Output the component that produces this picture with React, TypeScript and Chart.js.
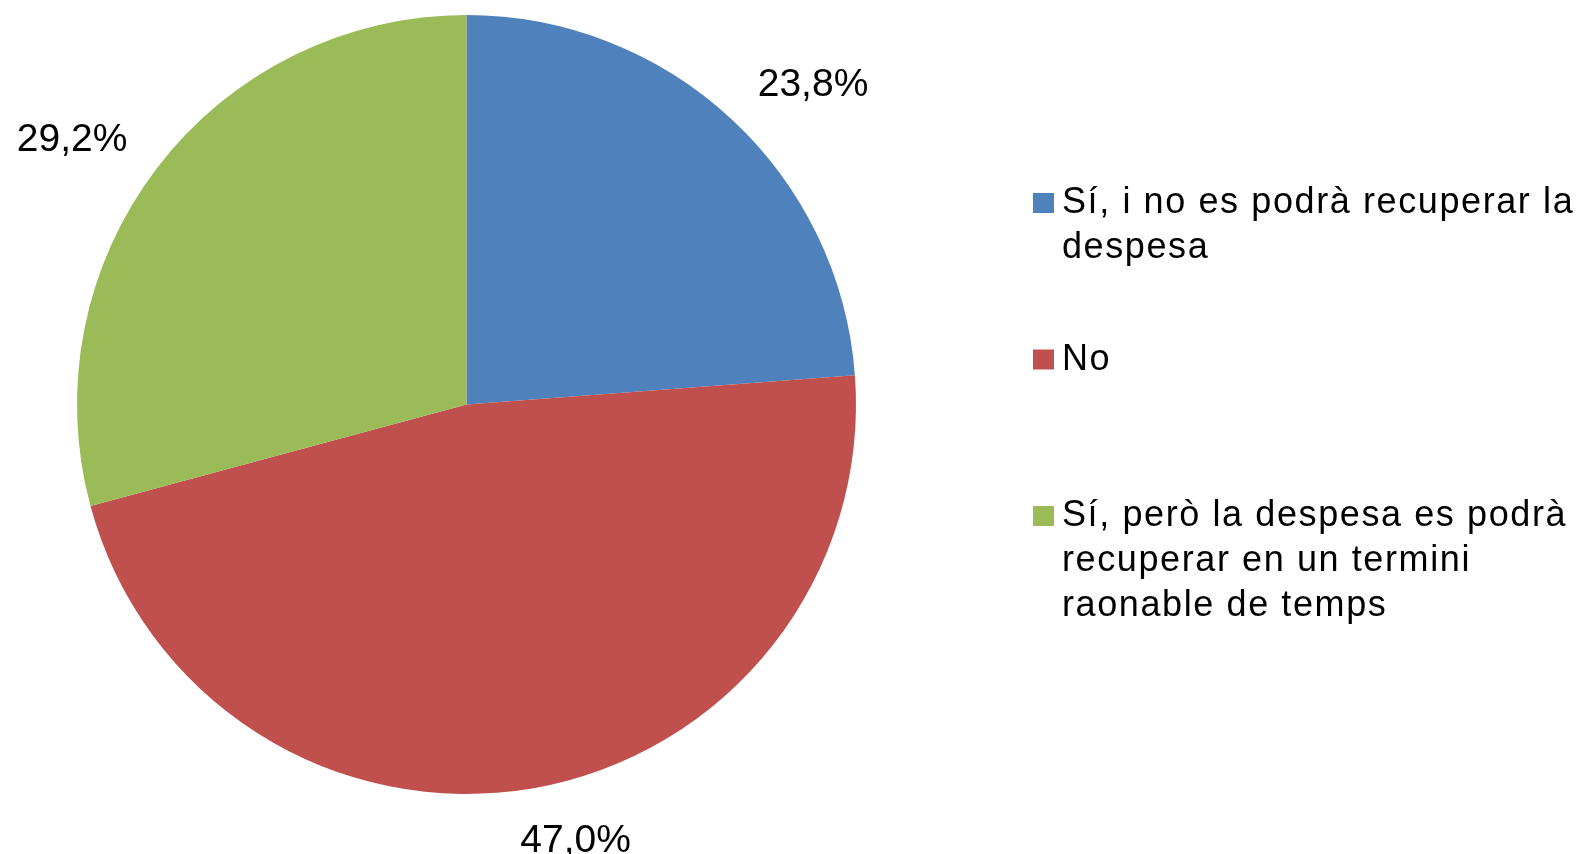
import React, { useEffect, useRef } from "react";
import { Chart, registerables } from "chart.js";

Chart.register(...registerables);

const categories = [
  "Sí, i no es podrà recuperar la despesa",
  "No",
  "Sí, però la despesa es podrà recuperar en un termini raonable de temps",
];
const values = [23.8, 47.0, 29.2];
const colors = ["#4F81BD", "#C0504D", "#9BBB59"];

const fmt = (v: number) => v.toFixed(1).replace(".", ",") + "%";

const W = 1581;
const H = 854;

const labelsPlugin = {
  id: "outLabels",
  afterDatasetsDraw(chart: any) {
    const ctx = chart.ctx as CanvasRenderingContext2D;
    const meta = chart.getDatasetMeta(0);
    ctx.save();
    ctx.font = "39px 'Liberation Sans', Arial, sans-serif";
    ctx.fillStyle = "#000";
    ctx.textAlign = "center";
    ctx.textBaseline = "alphabetic";
    meta.data.forEach((arc: any, i: number) => {
      const p = arc.getProps(["x", "y", "startAngle", "endAngle", "outerRadius"], true);
      const mid = (p.startAngle + p.endAngle) / 2;
      const s = Math.cos(mid); // x direction
      const c = -Math.sin(mid); // up direction
      const D = p.outerRadius + 30;
      const ax = p.x + D * s;
      const ay = p.y - D * c;
      const text = fmt(values[i]);
      const w = ctx.measureText(text).width;
      const h = 40;
      const cx = ax + (w / 2 + 6) * Math.sign(s) * Math.min(1, Math.abs(s) * 3.7);
      const cy = ay - (h / 2) * c;
      ctx.fillText(text, cx, cy + 14);
    });
    ctx.restore();
  },
};

const legendPlugin = {
  id: "wrapLegend",
  afterDraw(chart: any) {
    const ctx = chart.ctx as CanvasRenderingContext2D;
    ctx.save();
    ctx.font = "36px 'Liberation Sans', Arial, sans-serif";
    (ctx as any).letterSpacing = "1.6px";
    ctx.textAlign = "left";
    ctx.textBaseline = "alphabetic";
    const boxX = 1033;
    const textX = 1062;
    const maxW = 530;
    const firstBase = 213;
    const itemStep = 156.5;
    const lineH = 45;
    categories.forEach((label, i) => {
      const words = label.split(" ");
      const lines: string[] = [];
      let cur = "";
      words.forEach((wd) => {
        const t = cur ? cur + " " + wd : wd;
        if (cur && ctx.measureText(t).width > maxW) {
          lines.push(cur);
          cur = wd;
        } else cur = t;
      });
      if (cur) lines.push(cur);
      const base = firstBase + i * itemStep;
      ctx.fillStyle = colors[i];
      ctx.fillRect(boxX, base - 20, 21, 20);
      ctx.fillStyle = "#000";
      lines.forEach((ln, j) => ctx.fillText(ln, textX, base + j * lineH));
    });
    ctx.restore();
  },
};

export default function App() {
  const ref = useRef<HTMLCanvasElement>(null);
  useEffect(() => {
    if (!ref.current) return;
    const chart = new Chart(ref.current, {
      type: "pie",
      data: {
        labels: categories,
        datasets: [
          {
            data: values,
            backgroundColor: colors,
            borderWidth: 0,
          },
        ],
      },
      options: {
        responsive: false,
        animation: false,
        devicePixelRatio: 1,
        layout: { padding: { left: 77, top: 15, right: W - 856, bottom: H - 794 } },
        plugins: {
          legend: { display: false },
          tooltip: { enabled: false },
        },
      },
      plugins: [labelsPlugin, legendPlugin],
    });
    return () => chart.destroy();
  }, []);
  return (
    <div style={{ position: "fixed", left: 0, top: 0, width: W, height: H, background: "#fff" }}>
      <canvas ref={ref} width={W} height={H} style={{ display: "block" }} />
    </div>
  );
}
